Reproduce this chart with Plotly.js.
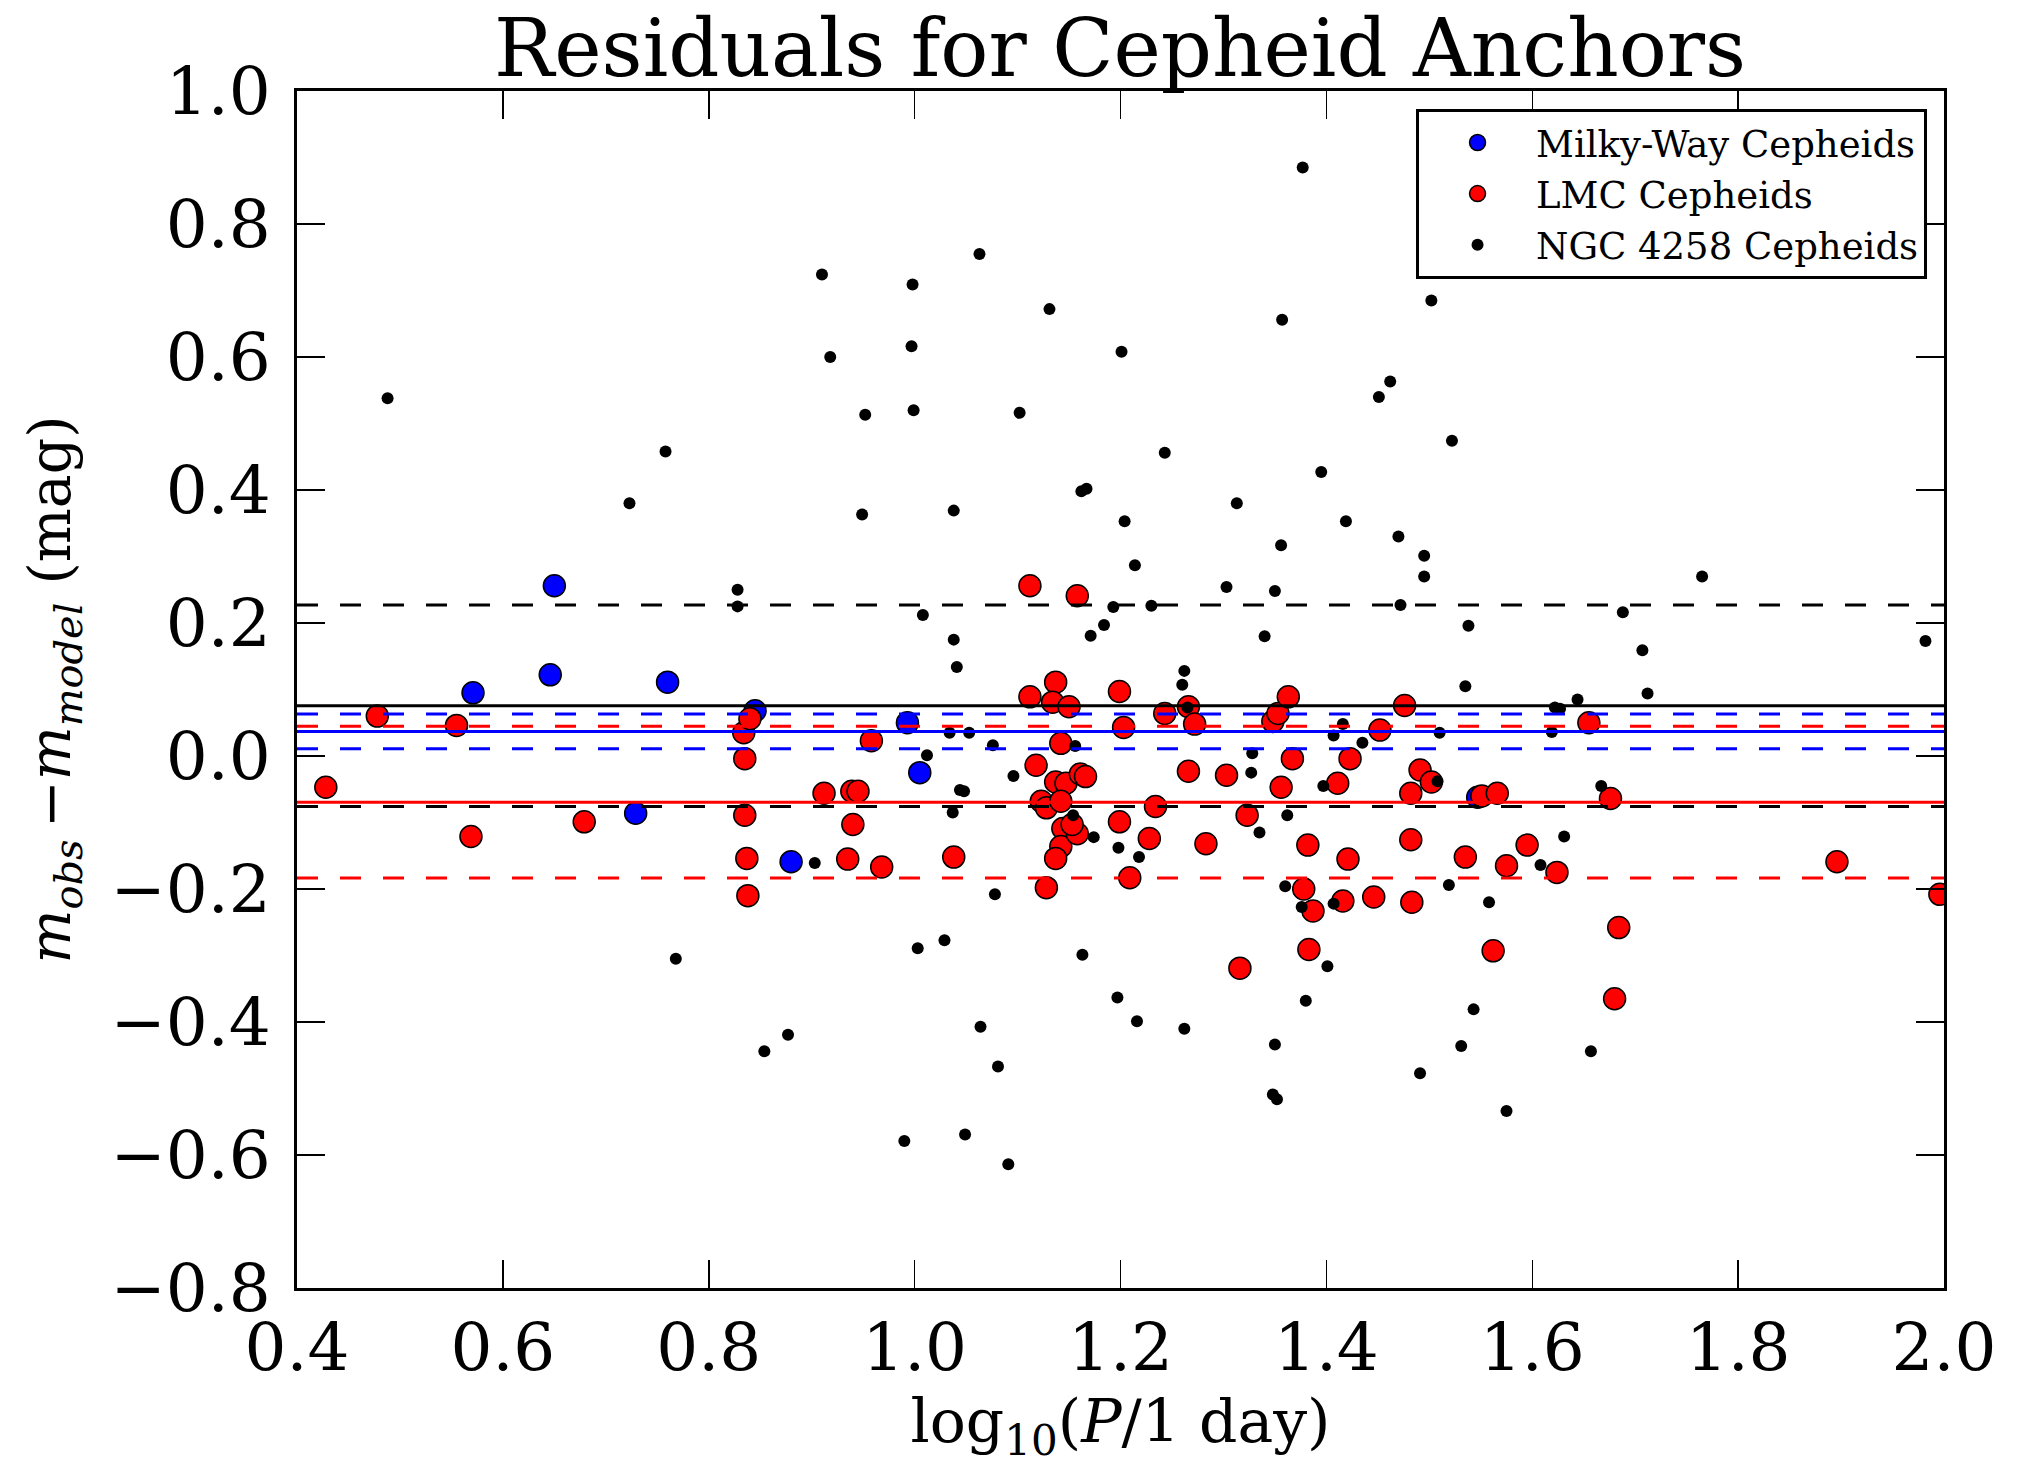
<!DOCTYPE html>
<html><head><meta charset="utf-8">
<script src="https://cdn.plot.ly/plotly-3.0.1.min.js"></script>
<style>html,body{margin:0;padding:0;background:#fff}</style>
</head><body><div id="chart" style="width:2020px;height:1465px"></div>
<script>
// Milky-Way Cepheids
const mwLogP  = [0.571, 0.650, 0.646, 0.760, 0.729, 0.845, 0.880, 0.993, 1.005, 1.547];
const mwResid = [0.095, 0.256, 0.122, 0.111, -0.086, 0.068, -0.159, 0.050, -0.025, -0.062];

// LMC Cepheids
const lmcLogP = [0.428, 0.478, 0.555, 0.569, 0.679, 0.834, 0.840, 0.835, 0.835, 0.837,
  0.838, 0.912, 0.939, 0.945, 0.940, 0.935, 0.958, 0.968, 1.038, 1.112,
  1.158, 1.112, 1.137, 1.134, 1.150, 1.118, 1.142, 1.123, 1.128, 1.137,
  1.147, 1.142, 1.144, 1.142, 1.137, 1.161, 1.166, 1.158, 1.153, 1.128,
  1.199, 1.203, 1.199, 1.209, 1.228, 1.234, 1.243, 1.266, 1.272, 1.266,
  1.283, 1.303, 1.316, 1.323, 1.348, 1.353, 1.363, 1.356, 1.367, 1.378,
  1.382, 1.387, 1.383, 1.411, 1.416, 1.421, 1.423, 1.446, 1.452, 1.476,
  1.482, 1.482, 1.483, 1.491, 1.502, 1.535, 1.551, 1.566, 1.562, 1.575,
  1.595, 1.624, 1.655, 1.676, 1.684, 1.680, 1.896, 1.996];
const lmcResid = [-0.047, 0.060, 0.046, -0.121, -0.099, 0.035, 0.056, -0.004, -0.089, -0.154,
  -0.210, -0.056, -0.053, -0.053, -0.103, -0.155, 0.023, -0.167, -0.152, 0.256,
  0.241, 0.089, 0.111, 0.081, 0.074, -0.014, 0.019, -0.068, -0.078, -0.039,
  -0.041, -0.068, -0.109, -0.136, -0.154, -0.027, -0.031, -0.117, -0.103, -0.198,
  0.097, 0.043, -0.099, -0.183, -0.124, -0.076, 0.064, 0.074, 0.048, -0.023,
  -0.132, -0.029, -0.319, -0.089, 0.052, 0.064, 0.089, -0.047, -0.004, -0.200,
  -0.134, -0.233, -0.291, -0.041, -0.218, -0.155, -0.004, -0.212, 0.039, 0.076,
  -0.056, -0.126, -0.220, -0.021, -0.039, -0.152, -0.060, -0.056, -0.293, -0.165,
  -0.134, -0.175, 0.050, -0.064, -0.258, -0.365, -0.159, -0.208];

// NGC 4258 Cepheids
const ngcLogP = [0.488, 0.723, 0.758, 0.828, 0.828, 0.910, 0.918, 0.952, 0.949, 0.998,
  0.997, 0.999, 1.038, 1.063, 1.131, 1.102, 1.201, 1.243, 1.162, 1.167,
  1.204, 1.313, 1.377, 1.357, 1.395, 1.419, 1.451, 1.462, 1.502, 1.522,
  1.470, 1.495, 1.495, 1.472, 1.538, 1.535, 1.765, 1.688, 1.707, 1.712,
  1.982, 1.008, 1.038, 1.041, 1.214, 1.193, 1.184, 1.171, 1.230, 1.303,
  1.356, 1.350, 1.340, 1.262, 1.260, 1.265,
  1.012, 1.034, 1.053, 1.076, 1.044, 1.048, 1.037, 1.096, 1.156, 1.154,
  1.174, 1.198, 1.218, 1.328, 1.327, 1.335, 1.362, 1.360, 1.376, 1.407,
  1.416, 1.407, 1.435, 1.397, 1.622, 1.627, 1.644, 1.510, 1.619, 1.508,
  1.667, 1.631, 1.608, 1.519, 1.558, 0.903,
  0.768, 0.854, 0.877, 0.990, 1.003, 1.029, 1.078, 1.049, 1.091, 1.064,
  1.081, 1.163, 1.197, 1.216, 1.262, 1.348, 1.352, 1.350, 1.380, 1.401,
  1.491, 1.531, 1.543, 1.575, 1.657];
const ngcResid = [0.538, 0.380, 0.458, 0.250, 0.225, 0.724, 0.600, 0.513, 0.363, 0.709,
  0.616, 0.520, 0.369, 0.755, 0.672, 0.516, 0.608, 0.456, 0.398, 0.402,
  0.353, 0.380, 0.885, 0.656, 0.427, 0.353, 0.540, 0.563, 0.685, 0.474,
  0.330, 0.301, 0.270, 0.227, 0.196, 0.105, 0.270, 0.216, 0.159, 0.094,
  0.173, 0.212, 0.175, 0.134, 0.287, 0.224, 0.197, 0.181, 0.226, 0.254,
  0.317, 0.248, 0.180, 0.128, 0.107, 0.073,
  0.001, 0.035, 0.035, 0.016, -0.051, -0.053, -0.085, -0.030, 0.015, -0.089,
  -0.122, -0.138, -0.152, 0.004, -0.025, -0.115, -0.089, -0.196, -0.227, -0.222,
  0.048, 0.031, 0.020, -0.045, 0.073, 0.071, 0.085, 0.035, 0.036, -0.038,
  -0.045, -0.121, -0.164, -0.194, -0.220, -0.161,
  -0.305, -0.444, -0.419, -0.579, -0.289, -0.277, -0.208, -0.569, -0.614, -0.407,
  -0.467, -0.299, -0.363, -0.399, -0.410, -0.509, -0.516, -0.434, -0.368, -0.316,
  -0.477, -0.436, -0.381, -0.534, -0.444];

// Mean residuals and scatter bands
const ngcMean = 0.0757, ngcSigma = 0.1515;
const mwMean = 0.037, mwErr = 0.026;
const lmcMean = -0.0694, lmcSigma = 0.114;

const xTickVals = [0.4, 0.6, 0.8, 1.0, 1.2, 1.4, 1.6, 1.8, 2.0];
const yTickVals = [-0.8, -0.6, -0.4, -0.2, 0.0, 0.2, 0.4, 0.6, 0.8, 1.0];

const FONT = 'DejaVu Serif, serif';

const traces = [
  {x: mwLogP, y: mwResid, mode: 'markers', type: 'scatter', name: 'Milky-Way Cepheids', legendgroup: 'mw',
   marker: {color: '#0000ff', size: 22, line: {color: '#000', width: 1.5}}},
  {x: lmcLogP, y: lmcResid, mode: 'markers', type: 'scatter', name: 'LMC Cepheids', legendgroup: 'lmc',
   marker: {color: '#ff0000', size: 22, line: {color: '#000', width: 1.5}}},
  {x: ngcLogP, y: ngcResid, mode: 'markers', type: 'scatter', name: 'NGC 4258 Cepheids', legendgroup: 'ngc',
   marker: {color: '#000000', size: 12, line: {color: '#000', width: 0}}}
];

function hline(yv, color, dash) {
  return {type: 'line', xref: 'paper', yref: 'y', x0: 0, x1: 1, y0: yv, y1: yv,
          line: {color: color, width: 3, dash: dash}, layer: 'above'};
}
const shapes = [
  hline(ngcMean, '#000', 'solid'),
  hline(ngcMean + ngcSigma, '#000', '21px,22px'),
  hline(ngcMean - ngcSigma, '#000', '21px,22px'),
  hline(mwMean, '#0000ff', 'solid'),
  hline(mwMean + mwErr, '#0000ff', '21px,22px'),
  hline(mwMean - mwErr, '#0000ff', '21px,22px'),
  hline(lmcMean, '#ff0000', 'solid'),
  hline(lmcMean + lmcSigma, '#ff0000', '21px,22px'),
  hline(lmcMean - lmcSigma, '#ff0000', '21px,22px')
];

const axisCommon = {
  showgrid: false, zeroline: false, showline: true, linecolor: '#000', linewidth: 3,
  mirror: 'ticks', ticks: 'inside', ticklen: 28, tickwidth: 1.5, tickcolor: '#000',
  tickfont: {family: FONT, size: 66, color: '#000'}, tickformat: '.1f'
};

const layout = {
  width: 2020, height: 1465,
  margin: {l: 297, r: 76, t: 91, b: 177},
  paper_bgcolor: '#fff', plot_bgcolor: '#fff',
  font: {family: FONT, color: '#000'},
  title: {text: 'Residuals for Cepheid Anchors', font: {family: FONT, size: 80, color: '#000'},
          x: 0.5545, xanchor: 'center', y: 0.9675, yanchor: 'middle', yref: 'container'},
  xaxis: Object.assign({}, axisCommon, {
    range: [0.4, 2.0], tickvals: xTickVals, ticklabelstandoff: 0,
    title: {text: 'log<sub>10</sub>(<i>P</i>/1 day)', font: {family: FONT, size: 60, color: '#000'}, standoff: 18}
  }),
  yaxis: Object.assign({}, axisCommon, {
    range: [-0.8, 1.0], tickvals: yTickVals, ticklabelstandoff: 10,
    title: {text: '\u2002<i>m</i><sub><i>obs</i></sub>\u2009−<i>m</i><sub><i>model</i></sub> (mag)', font: {family: FONT, size: 57, color: '#000'}, standoff: 22}
  }),
  showlegend: true,
  legend: {x: 0.9897, xanchor: 'right', y: 0.9850, yanchor: 'top',
           bgcolor: '#fff', bordercolor: '#000', borderwidth: 3,
           font: {family: FONT, size: 37, color: '#000'}, itemwidth: 107, indentation: 0,
           tracegroupgap: 8, traceorder: 'normal'},
  shapes: shapes
};

Plotly.newPlot('chart', traces, layout, {displayModeBar: false, staticPlot: true});
</script>
</body></html>
